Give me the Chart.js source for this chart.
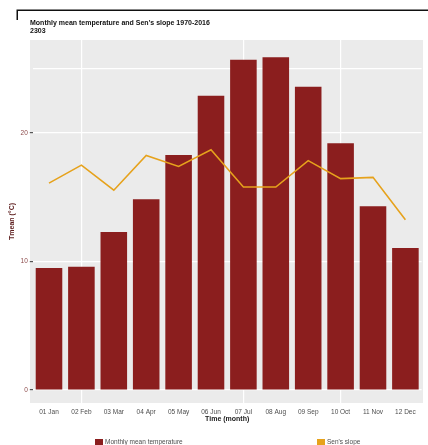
<!DOCTYPE html>
<html>
<head>
<meta charset="utf-8">
<script src="https://cdn.jsdelivr.net/npm/chart.js@4"></script>
<style>
  html, body { margin: 0; padding: 0; background: #ffffff; }
  #wrap { position: relative; width: 428px; height: 445px; }
  #c { display: block; }
  #legend {
    position: absolute; left: 0; top: 0; width: 428px; height: 445px;
    pointer-events: none;
    font: 6.5px "Liberation Sans", Arial, sans-serif; color: #4d4d4d;
  }
  .lg-item { position: absolute; top: 438px; height: 7px; display: flex; align-items: center; white-space: nowrap; }
  .lg-box { width: 8px; height: 6px; margin-right: 2px; flex: none; }
</style>
</head>
<body>
<div id="wrap">
  <canvas id="c" width="428" height="445"></canvas>
  <div id="legend"></div>
</div>
<script>
// Monthly climatology, 1970-2016
const months = ['01 Jan', '02 Feb', '03 Mar', '04 Apr', '05 May', '06 Jun',
                '07 Jul', '08 Aug', '09 Sep', '10 Oct', '11 Nov', '12 Dec'];
const tmean = [9.5, 9.6, 12.3, 14.85, 18.3, 22.9, 25.7, 25.9, 23.6, 19.2, 14.3, 11.05];
const sensSlope = [16.1, 17.5, 15.55, 18.25, 17.4, 18.7, 15.8, 15.8, 17.85, 16.45, 16.55, 13.25];

// Axis ticks: 25 only carries a grid line
const yTickValues = [0, 10, 20, 25];
const yTickLabels = [0, 10, 20];
const xGridMonths = ['02 Feb', '07 Jul', '10 Oct'];

const titleLines = ["Monthly mean temperature and Sen's slope 1970-2016", '2303'];

const FONT = '"Liberation Sans", Arial, sans-serif';
const BAR_COLOR = '#8B1E1E';
const LINE_COLOR = '#E6A21C';
const PANEL_COLOR = '#EBEBEB';

// grey plot panel behind the grid
const panelBg = {
  id: 'panelBg',
  beforeDraw(chart) {
    const { ctx, chartArea: a } = chart;
    ctx.save();
    ctx.fillStyle = PANEL_COLOR;
    ctx.fillRect(a.left - 2.8, a.top, a.right - a.left + 4.2, a.bottom - a.top);
    ctx.restore();
  }
};

// thin frame across the top-left of the page
const frame = {
  id: 'frame',
  afterDraw(chart) {
    const { ctx } = chart;
    ctx.save();
    ctx.strokeStyle = '#111111';
    ctx.lineWidth = 1.5;
    ctx.beginPath();
    ctx.moveTo(17.25, 20);
    ctx.lineTo(17.25, 10.25);
    ctx.lineTo(428, 10.25);
    ctx.stroke();
    ctx.restore();
  }
};

// title starts at the panel edge
const titleShift = {
  id: 'titleShift',
  afterLayout(chart) {
    const t = chart.titleBlock;
    if (t) { t.left += 30; t.right += 30; }
  }
};

// legend rendered as HTML below the chart
const legendLeft = [95, 317];
const htmlLegend = {
  id: 'htmlLegend',
  afterUpdate(chart) {
    const host = document.getElementById('legend');
    host.innerHTML = '';
    chart.data.datasets.forEach((ds, i) => {
      const item = document.createElement('div');
      item.className = 'lg-item';
      item.style.left = legendLeft[i] + 'px';
      const box = document.createElement('span');
      box.className = 'lg-box';
      box.style.background = ds.type === 'line' ? ds.borderColor : ds.backgroundColor;
      const txt = document.createElement('span');
      txt.textContent = ds.label;
      item.appendChild(box);
      item.appendChild(txt);
      host.appendChild(item);
    });
  }
};

new Chart(document.getElementById('c'), {
  type: 'bar',
  data: {
    labels: months,
    datasets: [
      {
        type: 'bar',
        label: 'Monthly mean temperature',
        data: tmean,
        backgroundColor: BAR_COLOR,
        barPercentage: 0.82,
        categoryPercentage: 1,
        order: 1
      },
      {
        type: 'line',
        label: "Sen's slope",
        data: sensSlope,
        borderColor: LINE_COLOR,
        backgroundColor: LINE_COLOR,
        borderWidth: 1.6,
        pointRadius: 0,
        tension: 0,
        order: 0
      }
    ]
  },
  options: {
    responsive: false,
    animation: false,
    devicePixelRatio: 1,
    layout: { padding: { left: 0, right: 6.4, top: 0, bottom: 22 } },
    plugins: {
      legend: { display: false },
      tooltip: { enabled: false },
      title: {
        display: true,
        text: titleLines,
        align: 'start',
        color: '#111111',
        font: { family: FONT, size: 7, weight: 'bold', lineHeight: 1.2 },
        padding: { top: 18.6, bottom: 4.6 }
      }
    },
    scales: {
      x: {
        grid: {
          offset: false,
          drawTicks: false,
          lineWidth: 1.2,
          color: c => xGridMonths.includes(months[c.index]) ? '#ffffff' : 'rgba(0,0,0,0)'
        },
        border: { display: false },
        ticks: {
          color: '#4d4d4d',
          font: { family: FONT, size: 6.5 },
          padding: 5,
          maxRotation: 0,
          autoSkip: false
        },
        title: {
          display: true,
          text: 'Time (month)',
          color: '#1a1a1a',
          font: { family: FONT, size: 7, weight: 'bold' },
          padding: { top: 0, bottom: 0 }
        },
        afterFit: s => { s.height = 20; }
      },
      y: {
        min: -1.01,
        max: 27.24,
        afterBuildTicks: s => { s.ticks = yTickValues.map(v => ({ value: v })); },
        grid: {
          color: '#ffffff',
          lineWidth: 1.2,
          tickLength: 3,
          tickColor: c => yTickLabels.includes(c.tick.value) ? '#555555' : 'rgba(0,0,0,0)'
        },
        border: { display: false },
        ticks: {
          padding: 2,
          color: '#8c4a4a',
          font: { family: FONT, size: 6.5 },
          callback: v => yTickLabels.includes(v) ? String(v) : ''
        },
        title: {
          display: true,
          text: 'Tmean (°C)',
          color: '#5c1c1c',
          font: { family: FONT, size: 7, weight: 'bold' },
          padding: { top: 8, bottom: 0 }
        },
        afterFit: s => { s.width = 32.8; }
      }
    }
  },
  plugins: [panelBg, frame, titleShift, htmlLegend]
});
</script>
</body>
</html>
